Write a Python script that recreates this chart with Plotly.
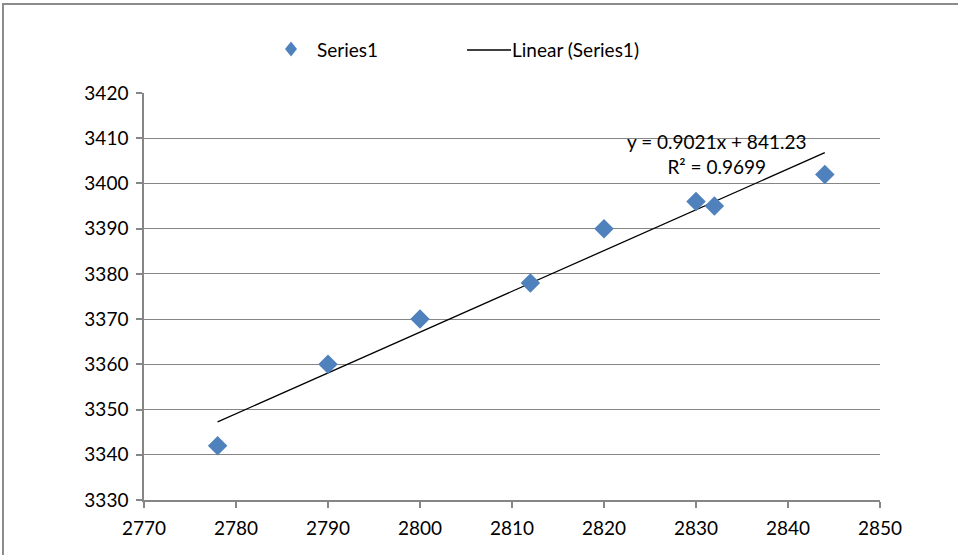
import plotly.graph_objects as go

x_vals = [2778, 2790, 2800, 2812, 2820, 2830, 2832, 2844]
y_vals = [3342, 3360, 3370, 3378, 3390, 3396, 3395, 3402]
slope = 0.9021
intercept = 841.23
r2 = 0.9699
series_name = "Series1"
trend_name = "Linear (Series1)"

trend_x = [min(x_vals), max(x_vals)]
trend_y = [slope * v + intercept for v in trend_x]

FONT = "Lato, 'Open Sans', sans-serif"
GRID = "#868686"
BLUE = "#4F81BD"
FS = 19

fig = go.Figure()
fig.add_trace(go.Scatter(x=trend_x, y=trend_y, mode="lines",
                         line=dict(color="black", width=1.3), name=trend_name, showlegend=False))
fig.add_trace(go.Scatter(x=x_vals, y=y_vals, mode="markers",
                         marker=dict(symbol="diamond", size=15, color=BLUE), name=series_name, showlegend=False))

L, R, T, B = 144, 880, 93, 500
W, H = 958, 555
def px(xp):
    return (xp - L) / (R - L)
def py(yp):
    return (B - yp) / (B - T)

# outer chart border
fig.add_shape(type="rect", xref="paper", yref="paper", x0=px(3), x1=px(1200), y0=py(800), y1=py(4),
              line=dict(color="#8c8c8c", width=2), fillcolor="rgba(0,0,0,0)", layer="below")

# legend (manual)
cx, cy, s = 291, 49, 7.5
fig.add_shape(type="path", xref="paper", yref="paper",
              path=f"M {px(cx)},{py(cy-s)} L {px(cx+s*0.8)},{py(cy)} L {px(cx)},{py(cy+s)} L {px(cx-s*0.8)},{py(cy)} Z",
              fillcolor=BLUE, line=dict(width=0))
fig.add_annotation(xref="paper", yref="paper", x=px(315), y=py(49), text=series_name, showarrow=False,
                   xanchor="left", yanchor="middle", font=dict(family=FONT, size=FS, color="black"))
fig.add_shape(type="line", xref="paper", yref="paper", x0=px(467), x1=px(511), y0=py(50), y1=py(50),
              line=dict(color="black", width=1.3))
fig.add_annotation(xref="paper", yref="paper", x=px(510), y=py(49), text=trend_name, showarrow=False,
                   xanchor="left", yanchor="middle", font=dict(family=FONT, size=FS, color="black"))

# trendline equation
fig.add_annotation(xref="paper", yref="paper", x=px(716), y=py(154),
                   text=f"y = {slope}x + {intercept}<br>R² = {r2}", showarrow=False,
                   xanchor="center", yanchor="middle", align="center",
                   font=dict(family=FONT, size=FS, color="black"))

axis_common = dict(gridcolor=GRID, gridwidth=1, showline=True, linecolor=GRID, linewidth=1.5,
                   ticks="outside", ticklen=6, tickcolor=GRID, tickwidth=1.5, zeroline=False,
                   ticklabelstandoff=4,
                   tickfont=dict(family=FONT, size=FS, color="black"))
fig.update_xaxes(range=[2770, 2850], dtick=10, tick0=2770, showgrid=False, **axis_common)
fig.update_yaxes(range=[3330, 3420], dtick=10, tick0=3330, showgrid=True, **axis_common)

fig.update_layout(width=W, height=H, margin=dict(l=L, r=W - R, t=T, b=H - B),
                  plot_bgcolor="white", paper_bgcolor="white", showlegend=False)

fig.write_html("out.html")
